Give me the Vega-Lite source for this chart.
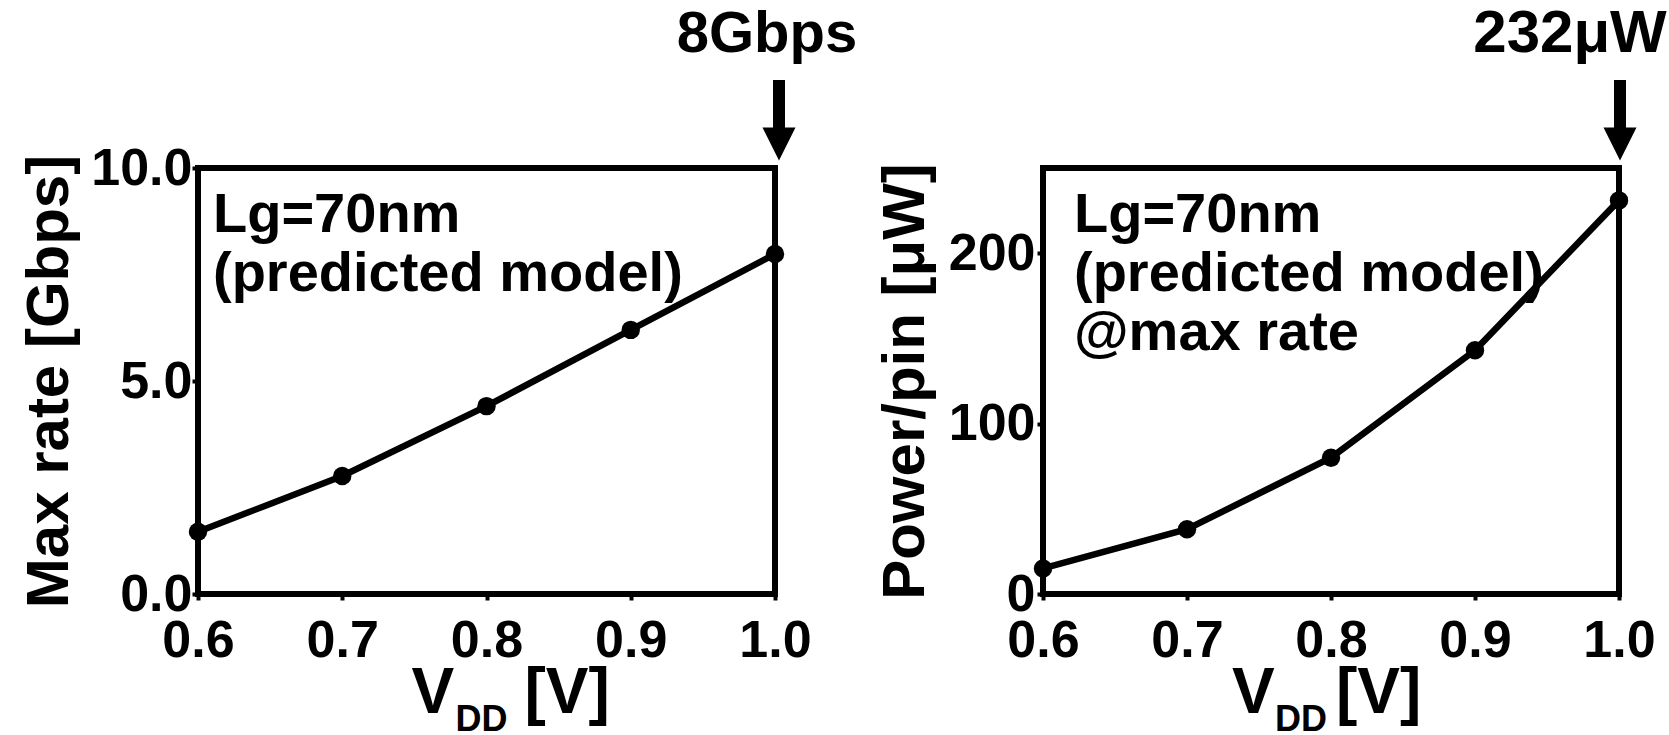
{
  "$schema": "https://vega.github.io/schema/vega-lite/v6.json",
  "padding": {"left": 16, "top": 1, "right": 0, "bottom": 0},
  "background": "white",
  "config": {
    "view": {"stroke": "black", "strokeWidth": 6},
    "font": "Liberation Sans",
    "axis": {
      "domain": false,
      "grid": false,
      "ticks": true,
      "tickColor": "black",
      "tickWidth": 4,
      "tickSize": 6,
      "labelColor": "black",
      "labelFont": "Liberation Sans",
      "labelFontWeight": "bold",
      "labelFontSize": 52,
      "labelFlush": false,
      "labelOverlap": false,
      "labelBound": false,
      "titleColor": "black",
      "titleFont": "Liberation Sans",
      "titleFontWeight": "bold",
      "titleFontSize": 60
    },
    "text": {"font": "Liberation Sans", "fontWeight": "bold", "color": "black"}
  },
  "hconcat": [
    {
      "width": 577,
      "height": 426,
      "layer": [
        {
          "data": {"values": [
            {"vdd": 0.6, "rate": 1.46},
            {"vdd": 0.7, "rate": 2.77},
            {"vdd": 0.8, "rate": 4.41},
            {"vdd": 0.9, "rate": 6.2},
            {"vdd": 1.0, "rate": 7.98}
          ]},
          "encoding": {
            "x": {"field": "vdd", "type": "quantitative",
                  "scale": {"domain": [0.6, 1.0], "nice": false, "zero": false},
                  "axis": {"values": [0.6, 0.7, 0.8, 0.9, 1.0], "format": ".1f", "title": null, "labelPadding": 15}},
            "y": {"field": "rate", "type": "quantitative",
                  "scale": {"domain": [0, 10], "nice": false},
                  "axis": {"values": [0, 5, 10], "format": ".1f", "title": "Max rate [Gbps]", "labelPadding": 0, "titlePadding": 10}}
          },
          "layer": [
            {"mark": {"type": "line", "color": "black", "strokeWidth": 6.5, "clip": false}},
            {"mark": {"type": "point", "filled": true, "color": "black", "opacity": 1, "size": 340, "clip": false}}
          ]
        },
        {
          "data": {"values": [{"info": "Lg=70nm\n(predicted model)"}]},
          "mark": {"type": "text", "align": "left", "baseline": "alphabetic", "fontSize": 56, "lineHeight": 59, "lineBreak": "\n", "xOffset": 15, "yOffset": 64},
          "encoding": {"x": {"datum": 0.6, "type": "quantitative"}, "y": {"datum": 10, "type": "quantitative"}, "text": {"field": "info", "type": "nominal"}}
        },
        {
          "data": {"values": [{"vdd": 1.0, "note": "8Gbps"}]},
          "layer": [
            {
              "mark": {"type": "rule", "color": "black", "strokeWidth": 12, "yOffset": -88, "y2Offset": -38, "xOffset": 4},
              "encoding": {"x": {"field": "vdd", "type": "quantitative"}, "y": {"datum": 10, "type": "quantitative"}, "y2": {"datum": 10}}
            },
            {
              "mark": {"type": "point", "filled": true, "color": "black", "opacity": 1, "shape": "M-1,-1L1,-1L0,1Z", "size": 1090, "yOffset": -24, "xOffset": 4},
              "encoding": {"x": {"field": "vdd", "type": "quantitative"}, "y": {"datum": 10, "type": "quantitative"}}
            },
            {
              "mark": {"type": "text", "align": "center", "baseline": "alphabetic", "fontSize": 58, "xOffset": -8, "yOffset": -116},
              "encoding": {"x": {"field": "vdd", "type": "quantitative"}, "y": {"datum": 10, "type": "quantitative"}, "text": {"field": "note", "type": "nominal"}}
            }
          ]
        },
        {
          "data": {"values": [{"part": "V"}]},
          "mark": {"type": "text", "align": "left", "baseline": "alphabetic", "fontSize": 64, "xOffset": -75, "yOffset": 119},
          "encoding": {"x": {"datum": 0.8, "type": "quantitative"}, "y": {"datum": 0, "type": "quantitative"}, "text": {"field": "part", "type": "nominal"}}
        },
        {
          "data": {"values": [{"part": "DD"}]},
          "mark": {"type": "text", "align": "left", "baseline": "alphabetic", "fontSize": 36, "xOffset": -31, "yOffset": 137},
          "encoding": {"x": {"datum": 0.8, "type": "quantitative"}, "y": {"datum": 0, "type": "quantitative"}, "text": {"field": "part", "type": "nominal"}}
        },
        {
          "data": {"values": [{"part": "[V]"}]},
          "mark": {"type": "text", "align": "left", "baseline": "alphabetic", "fontSize": 64, "xOffset": 38, "yOffset": 119},
          "encoding": {"x": {"datum": 0.8, "type": "quantitative"}, "y": {"datum": 0, "type": "quantitative"}, "text": {"field": "part", "type": "nominal"}}
        }
      ]
    },
    {
      "width": 576,
      "height": 426,
      "layer": [
        {
          "data": {"values": [
            {"vdd": 0.6, "power": 15},
            {"vdd": 0.7, "power": 38},
            {"vdd": 0.8, "power": 80},
            {"vdd": 0.9, "power": 143},
            {"vdd": 1.0, "power": 231}
          ]},
          "encoding": {
            "x": {"field": "vdd", "type": "quantitative",
                  "scale": {"domain": [0.6, 1.0], "nice": false, "zero": false},
                  "axis": {"values": [0.6, 0.7, 0.8, 0.9, 1.0], "format": ".1f", "title": null, "labelPadding": 15}},
            "y": {"field": "power", "type": "quantitative",
                  "scale": {"domain": [0, 250], "nice": false},
                  "axis": {"values": [0, 100, 200], "format": "d", "title": "Power/pin [μW]", "labelPadding": 2, "titlePadding": 12}}
          },
          "layer": [
            {"mark": {"type": "line", "color": "black", "strokeWidth": 6.5, "clip": false}},
            {"mark": {"type": "point", "filled": true, "color": "black", "opacity": 1, "size": 340, "clip": false}}
          ]
        },
        {
          "data": {"values": [{"info": "Lg=70nm\n(predicted model)\n@max rate"}]},
          "mark": {"type": "text", "align": "left", "baseline": "alphabetic", "fontSize": 56, "lineHeight": 59, "lineBreak": "\n", "xOffset": 31, "yOffset": 64},
          "encoding": {"x": {"datum": 0.6, "type": "quantitative"}, "y": {"datum": 250, "type": "quantitative"}, "text": {"field": "info", "type": "nominal"}}
        },
        {
          "data": {"values": [{"vdd": 1.0, "note": "232μW"}]},
          "layer": [
            {
              "mark": {"type": "rule", "color": "black", "strokeWidth": 12, "yOffset": -88, "y2Offset": -38, "xOffset": 1},
              "encoding": {"x": {"field": "vdd", "type": "quantitative"}, "y": {"datum": 250, "type": "quantitative"}, "y2": {"datum": 250}}
            },
            {
              "mark": {"type": "point", "filled": true, "color": "black", "opacity": 1, "shape": "M-1,-1L1,-1L0,1Z", "size": 1090, "yOffset": -24, "xOffset": 1},
              "encoding": {"x": {"field": "vdd", "type": "quantitative"}, "y": {"datum": 250, "type": "quantitative"}}
            },
            {
              "mark": {"type": "text", "align": "center", "baseline": "alphabetic", "fontSize": 60, "xOffset": -49, "yOffset": -116},
              "encoding": {"x": {"field": "vdd", "type": "quantitative"}, "y": {"datum": 250, "type": "quantitative"}, "text": {"field": "note", "type": "nominal"}}
            }
          ]
        },
        {
          "data": {"values": [{"part": "V"}]},
          "mark": {"type": "text", "align": "left", "baseline": "alphabetic", "fontSize": 64, "xOffset": -99, "yOffset": 119},
          "encoding": {"x": {"datum": 0.8, "type": "quantitative"}, "y": {"datum": 0, "type": "quantitative"}, "text": {"field": "part", "type": "nominal"}}
        },
        {
          "data": {"values": [{"part": "DD"}]},
          "mark": {"type": "text", "align": "left", "baseline": "alphabetic", "fontSize": 36, "xOffset": -56, "yOffset": 137},
          "encoding": {"x": {"datum": 0.8, "type": "quantitative"}, "y": {"datum": 0, "type": "quantitative"}, "text": {"field": "part", "type": "nominal"}}
        },
        {
          "data": {"values": [{"part": "[V]"}]},
          "mark": {"type": "text", "align": "left", "baseline": "alphabetic", "fontSize": 64, "xOffset": 5, "yOffset": 119},
          "encoding": {"x": {"datum": 0.8, "type": "quantitative"}, "y": {"datum": 0, "type": "quantitative"}, "text": {"field": "part", "type": "nominal"}}
        }
      ]
    }
  ],
  "spacing": 268,
  "bounds": "flush"
}
